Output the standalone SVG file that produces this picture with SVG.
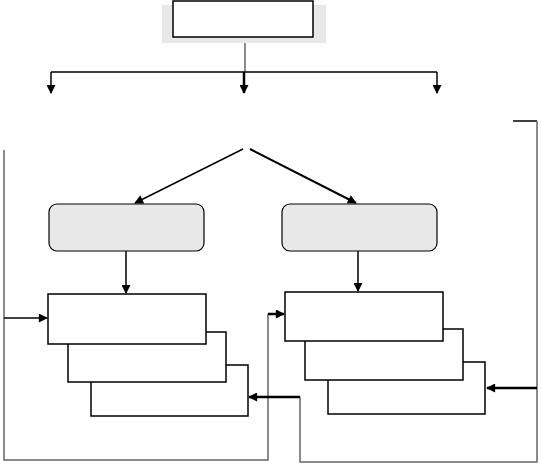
<svg xmlns="http://www.w3.org/2000/svg" width="541" height="465" viewBox="0 0 541 465">
<defs>
<marker id="ah" viewBox="0 0 10 10" refX="9" refY="5" markerWidth="10" markerHeight="9" markerUnits="userSpaceOnUse" orient="auto">
<path d="M0,0 L10,5 L0,10 Z" fill="#000"/>
</marker>
</defs>
<style>
.box{fill:#fff;stroke:#000;stroke-width:1.5}
.gray{fill:#e8e8e8;stroke:#000;stroke-width:1.2}
.ln{fill:none;stroke:#000;stroke-width:1.5}
.lg{fill:none;stroke:#666;stroke-width:1.5}
.thick{fill:none;stroke:#000;stroke-width:2.5}
.mid{fill:none;stroke:#000;stroke-width:2}
</style>
<rect width="541" height="465" fill="#fff"/>
<g id="top">
<rect x="162" y="5" width="164" height="38" fill="#e8e8e8"/>
<rect x="173" y="1" width="140" height="36" class="box"/>
</g>
<g id="box-left"><rect x="49" y="204" width="155" height="47" rx="8" class="gray"/></g>
<g id="box-right"><rect x="282" y="204" width="155" height="47" rx="8" class="gray"/></g>
<g id="stack-left">
<rect id="l3" x="91" y="365" width="157" height="51" class="box"/>
<rect id="l2" x="68" y="332" width="158" height="50" class="box"/>
<rect id="l1" x="48" y="294" width="158" height="50" class="box"/>
</g>
<g id="stack-right">
<rect id="r3" x="328" y="362" width="157" height="52" class="box"/>
<rect id="r2" x="305" y="329" width="158" height="51" class="box"/>
<rect id="r1" x="285" y="292" width="158" height="49" class="box"/>
</g>
<g id="connectors">
<path d="M245,43 V72" class="lg"/>
<path d="M51,72 H437" class="ln"/>
<path d="M51,72 V93" class="ln" marker-end="url(#ah)"/>
<path d="M244,72 V93" class="thick" marker-end="url(#ah)"/>
<path d="M437,72 V93" class="ln" marker-end="url(#ah)"/>
<path d="M243,149 L135,203" class="ln" marker-end="url(#ah)"/>
<path d="M250,149 L356,203" class="mid" marker-end="url(#ah)"/>
<path d="M126,251 V293" class="ln" marker-end="url(#ah)"/>
<path d="M358,251 V291" class="ln" marker-end="url(#ah)"/>
<path d="M4,150 V460 H268 V314" class="lg"/>
<path d="M268,314 H284" class="thick" marker-end="url(#ah)"/>
<path d="M4,318 H47" class="ln" marker-end="url(#ah)"/>
<path d="M513,121 H537" class="ln"/>
<path d="M537,121 V462 H300 V397" class="lg"/>
<path d="M300,397 H249" class="thick" marker-end="url(#ah)"/>
<path d="M537,388 H487" class="thick" marker-end="url(#ah)"/>
</g>
</svg>
